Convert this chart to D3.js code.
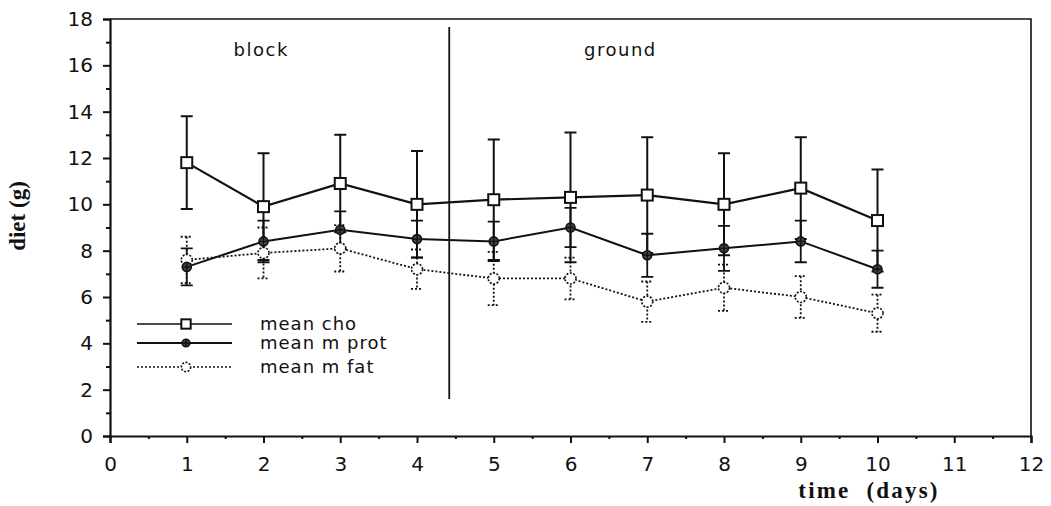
<!DOCTYPE html>
<html>
<head>
<meta charset="utf-8">
<script src="https://cdn.jsdelivr.net/npm/d3@7/dist/d3.min.js"></script>
<style>
  html, body { margin: 0; padding: 0; background: #fff; }
  svg { display: block; }
</style>
</head>
<body>
<div id="chart"></div>
<script>
// Daily diet intake (g), mean ± SD, for the three dietary components
const days = [1, 2, 3, 4, 5, 6, 7, 8, 9, 10];
const choMean  = [11.8, 9.9, 10.9, 10.0, 10.2, 10.3, 10.4, 10.0, 10.7, 9.3];
const choSd    = [2.0, 2.3, 2.1, 2.3, 2.6, 2.8, 2.5, 2.2, 2.2, 2.2];
const protMean = [7.3, 8.4, 8.9, 8.5, 8.4, 9.0, 7.8, 8.1, 8.4, 7.2];
const protSd   = [0.8, 0.9, 0.8, 0.8, 0.85, 0.85, 0.93, 0.97, 0.9, 0.8];
const fatMean  = [7.6, 7.9, 8.1, 7.2, 6.8, 6.8, 5.8, 6.4, 6.0, 5.3];
const fatSd    = [1.0, 1.1, 1.0, 0.85, 1.15, 0.9, 0.87, 1.0, 0.9, 0.8];

const seriesNames = ["mean cho", "mean m prot", "mean m fat"];
const xTicks = d3.range(0, 13, 1);
const yTicks = d3.range(0, 19, 2);

// Boundary between the block and ground feeding phases
const phaseBoundary = 4.42;
const phaseLabels = [
  { text: "block",  x: 1.97, y: 16.4 },
  { text: "ground", x: 6.65, y: 16.4 }
];

const W = 1051, H = 506;
const svg = d3.select("#chart").append("svg")
  .attr("width", W).attr("height", H);

const x = d3.scaleLinear().domain([0, 12]).range([110, 1031]);
const y = d3.scaleLinear().domain([0, 18]).range([436, 19]);

const tickFont = "'DejaVu Sans', Verdana, sans-serif";
const titleFont = "'Liberation Serif', 'Times New Roman', serif";

// Frame: top and right edges
svg.append("path")
  .attr("d", `M${x(0)},${y(18)}H${x(12)}V${y(0)}`)
  .attr("fill", "none").attr("stroke", "#111").attr("stroke-width", 1.6);

// Y axis
const yAxis = svg.append("g").attr("transform", `translate(${x(0)},0)`)
  .call(d3.axisLeft(y).tickValues(yTicks).tickSize(7).tickPadding(10).tickFormat(d3.format("d")));
yAxis.select(".domain").attr("stroke", "#111").attr("stroke-width", 2.2);
yAxis.selectAll(".tick line").attr("stroke", "#111").attr("stroke-width", 2);
yAxis.selectAll("text").attr("font-family", tickFont).attr("font-size", 20).attr("fill", "#111");

const yMinor = svg.append("g").attr("transform", `translate(${x(0)},0)`)
  .call(d3.axisLeft(y).tickValues(d3.range(1, 18, 2)).tickSize(4).tickFormat(""));
yMinor.select(".domain").remove();
yMinor.selectAll(".tick line").attr("stroke", "#111").attr("stroke-width", 2);

// X axis
const xAxis = svg.append("g").attr("transform", `translate(0,${y(0)})`)
  .call(d3.axisBottom(x).tickValues(xTicks).tickSize(7).tickPadding(14).tickFormat(d3.format("d")));
xAxis.select(".domain").attr("stroke", "#111").attr("stroke-width", 2.2);
xAxis.selectAll(".tick line").attr("stroke", "#111").attr("stroke-width", 2);
xAxis.selectAll("text").attr("font-family", tickFont).attr("font-size", 20).attr("fill", "#111");

const xMinor = svg.append("g").attr("transform", `translate(0,${y(0)})`)
  .call(d3.axisBottom(x).tickValues(d3.range(0.5, 12, 1)).tickSize(3).tickFormat(""));
xMinor.select(".domain").remove();
xMinor.selectAll(".tick line").attr("stroke", "#111").attr("stroke-width", 2);

// Axis titles
svg.append("text")
  .attr("transform", "translate(25,216) rotate(-90)")
  .attr("text-anchor", "middle")
  .attr("font-family", titleFont)
  .attr("font-weight", "bold").attr("font-size", 23).attr("fill", "#111")
  .text("diet (g)");

svg.append("text")
  .attr("x", 869).attr("y", 498)
  .attr("text-anchor", "middle")
  .attr("font-family", titleFont)
  .attr("font-weight", "bold").attr("font-size", 23).attr("fill", "#111")
  .attr("letter-spacing", 2.2)
  .style("white-space", "pre")
  .text("time  (days)");

// Phase divider and labels
svg.append("line")
  .attr("x1", x(phaseBoundary)).attr("x2", x(phaseBoundary))
  .attr("y1", y(17.65)).attr("y2", y(1.6))
  .attr("stroke", "#111").attr("stroke-width", 1.8);

svg.selectAll("text.phase").data(phaseLabels).enter().append("text")
  .attr("class", "phase")
  .attr("x", d => x(d.x)).attr("y", d => y(d.y))
  .attr("text-anchor", "middle")
  .attr("font-family", tickFont).attr("font-size", 18)
  .attr("letter-spacing", 1.5).attr("fill", "#111")
  .text(d => d.text);

// Series definitions
const series = [
  { name: seriesNames[0], mean: choMean,  sd: choSd,  dash: null,  width: 2.2, marker: "square" },
  { name: seriesNames[1], mean: protMean, sd: protSd, dash: null,  width: 2.0, marker: "prot" },
  { name: seriesNames[2], mean: fatMean,  sd: fatSd,  dash: "2,2", width: 1.8, marker: "circle" }
];

function drawMarker(g, type, cx, cy, scale = 1) {
  if (type === "square") {
    const h = 5.5 * scale;
    g.append("rect").attr("x", cx - h).attr("y", cy - h).attr("width", 2 * h).attr("height", 2 * h)
      .attr("fill", "#fff").attr("stroke", "#111").attr("stroke-width", 2);
  } else if (type === "prot") {
    g.append("circle").attr("cx", cx).attr("cy", cy).attr("r", 4.5 * scale)
      .attr("fill", "#444").attr("stroke", "#111").attr("stroke-width", 1.6);
    g.append("path").attr("d", `M${cx - 3.5},${cy}H${cx + 3.5}M${cx},${cy - 3.5}V${cy + 3.5}`)
      .attr("stroke", "#111").attr("stroke-width", 1.4);
  } else {
    g.append("circle").attr("cx", cx).attr("cy", cy).attr("r", 5.5 * scale)
      .attr("fill", "#fff").attr("stroke", "#111").attr("stroke-width", 1.6)
      .attr("stroke-dasharray", "2,1.5");
  }
}

const order = [2, 1, 0];
// Error bars first
order.forEach(i => {
  const s = series[i];
  const g = svg.append("g");
  days.forEach((d, k) => {
    const cx = x(d), hi = y(s.mean[k] + s.sd[k]), lo = y(s.mean[k] - s.sd[k]);
    const path = `M${cx},${hi}V${lo}M${cx - 6},${hi}H${cx + 6}M${cx - 6},${lo}H${cx + 6}`;
    g.append("path").attr("d", path).attr("fill", "none")
      .attr("stroke", "#111").attr("stroke-width", i === 0 ? 2 : 1.8)
      .attr("stroke-dasharray", s.dash);
  });
});

// Lines and markers
const line = d3.line().x(d => x(d[0])).y(d => y(d[1]));
order.forEach(i => {
  const s = series[i];
  const pts = days.map((d, k) => [d, s.mean[k]]);
  svg.append("path").datum(pts).attr("d", line)
    .attr("fill", "none").attr("stroke", "#111")
    .attr("stroke-width", s.width).attr("stroke-dasharray", s.dash);
  const g = svg.append("g");
  pts.forEach(p => drawMarker(g, s.marker, x(p[0]), y(p[1])));
});

// Legend
const legend = svg.append("g");
const legendRows = [324, 343, 367];
series.forEach((s, i) => {
  const ly = legendRows[i];
  legend.append("line").attr("x1", 137).attr("x2", 232).attr("y1", ly).attr("y2", ly)
    .attr("stroke", "#111").attr("stroke-width", i === 1 ? 2.2 : 1.6)
    .attr("stroke-dasharray", s.dash);
  drawMarker(legend, s.marker, 186, ly, 0.85);
  legend.append("text").attr("x", 260).attr("y", ly + 6)
    .attr("font-family", tickFont).attr("font-size", 18)
    .attr("letter-spacing", 1).attr("fill", "#111")
    .text(s.name);
});
</script>
</body>
</html>
